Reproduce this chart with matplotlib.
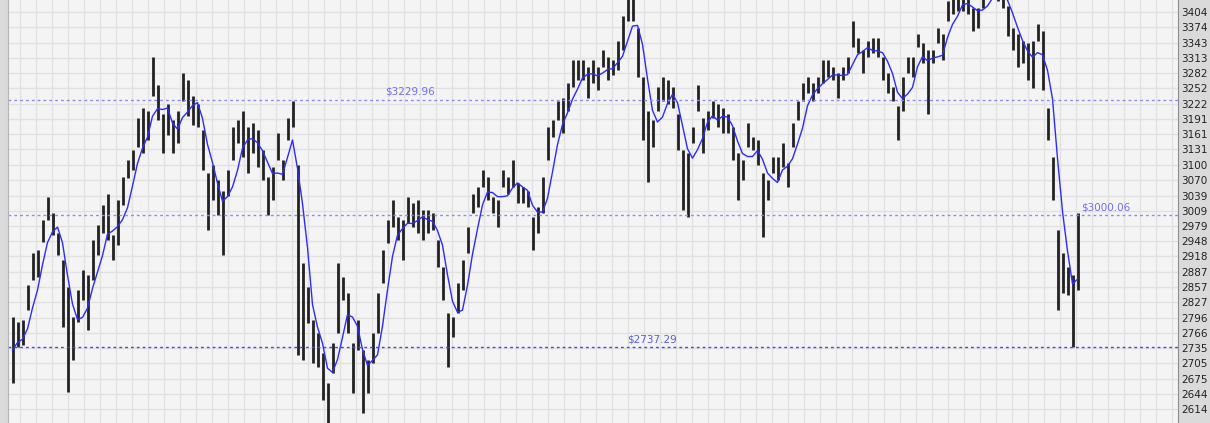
import numpy as np
import pandas as pd
import matplotlib
matplotlib.use("Agg")
import matplotlib.pyplot as plt
from matplotlib.ticker import MultipleLocator, FixedLocator, NullFormatter

# bar highs / lows, one bar every ~5 px
highs = [2797, 2787, 2791, 2861, 2924, 2930, 2990, 3036, 3004, 2964,
         2910, 2857, 2797, 2851, 2890, 2881, 2950, 2980, 3020, 3043,
         2960, 3030, 3075, 3109, 3129, 3194, 3214, 3208, 3314, 3258,
         3202, 3222, 3189, 3208,
         3282, 3268, 3238, 3222, 3169, 3083, 3099, 3069, 3049, 3089,
         3175, 3189, 3208, 3175, 3183, 3169, 3129, 3075, 3095, 3163,
         3109, 3194, 3228, 3099, 2904, 2857, 2791, 2765, 2726, 2666,
         2745, 2904, 2877, 2845, 2745, 2791,
         2731, 2712, 2765, 2845, 2930, 2990, 3030, 2996, 2990, 3036,
         3024, 3030, 3010, 3010, 3004, 2950, 2896, 2805, 2797, 2865,
         2910, 2976, 3043, 3055, 3089, 3075, 3036, 3030, 3089, 3075,
         3109, 3063, 3055, 3049, 2996, 3016,
         3075, 3175, 3189, 3228, 3234, 3262, 3308, 3308, 3308, 3294,
         3308, 3294, 3328, 3314, 3308, 3347, 3397, 3437, 3437, 3373,
         3274, 3208, 3189, 3254, 3274, 3268, 3254, 3202, 3129, 3123,
         3175, 3258, 3194, 3208, 3228, 3222,
         3214, 3202, 3175, 3123, 3109, 3183, 3155, 3149, 3083, 3069,
         3115, 3115, 3143, 3103, 3183, 3228, 3262, 3274, 3262, 3274,
         3308, 3308, 3294, 3282, 3294, 3314, 3387, 3353, 3328, 3347,
         3353, 3353, 3314, 3282, 3254, 3218,
         3274, 3314, 3314, 3361, 3342, 3328, 3328, 3373, 3361, 3427,
         3437, 3437, 3443, 3437, 3413, 3413, 3447, 3467, 3467, 3457,
         3447, 3417, 3373, 3361, 3347, 3342, 3347, 3381, 3367, 3214,
         3115, 2970, 2924, 2896, 2881, 3005]
lows = [2666, 2737, 2741, 2811, 2871, 2877, 2946, 2990, 2960, 2920,
        2777, 2648, 2712, 2787, 2831, 2771, 2871, 2920, 2964, 2950,
        2910, 2940, 3020, 3073, 3089, 3135, 3123, 3149, 3238, 3189,
        3123, 3159, 3123, 3143,
        3228, 3198, 3179, 3175, 3089, 2970, 3030, 3000, 2920, 3039,
        3109, 3143, 3115, 3083, 3123, 3095, 3069, 3000, 3030, 3109,
        3069, 3149, 3175, 2722, 2712, 2785, 2706, 2698, 2632, 2580,
        2686, 2765, 2831, 2765, 2646, 2731,
        2606, 2646, 2706, 2765, 2865, 2944, 2976, 2950, 2910, 2984,
        2976, 2964, 2950, 2964, 2970, 2896, 2831, 2698, 2757, 2805,
        2851, 2924, 3004, 3016, 3055, 3030, 3004, 2976, 3055, 3043,
        3055, 3024, 3024, 3016, 2930, 2964,
        3004, 3109, 3155, 3189, 3163, 3208, 3254, 3268, 3268, 3234,
        3262, 3248, 3294, 3268, 3278, 3288, 3328, 3387, 3387, 3274,
        3149, 3065, 3135, 3208, 3228, 3222, 3214, 3129, 3010, 2996,
        3143, 3208, 3123, 3169, 3194, 3175,
        3163, 3163, 3109, 3030, 3069, 3135, 3129, 3099, 2956, 3030,
        3083, 3069, 3095, 3055, 3135, 3189, 3228, 3242, 3228, 3242,
        3262, 3274, 3268, 3234, 3268, 3282, 3334, 3322, 3282, 3314,
        3322, 3314, 3268, 3242, 3228, 3149,
        3208, 3282, 3274, 3334, 3302, 3202, 3302, 3342, 3308, 3387,
        3401, 3407, 3407, 3401, 3367, 3373, 3413, 3437, 3437, 3427,
        3413, 3357, 3328, 3294, 3302, 3268, 3252, 3347, 3248, 3149,
        3030, 2811, 2845, 2841, 2737, 2851]

ytick_labels = ["3404", "3374", "3343", "3313", "3282", "3252", "3222",
                "3191", "3161", "3131", "3100", "3070", "3039", "3009",
                "2979", "2948", "2918", "2887", "2857", "2827", "2796",
                "2766", "2735", "2705", "2675", "2644", "2614", "2583"]

levels = [3229.96, 3000.06, 2737.29]
level_colors = ["#8a8aff", "#8a8aff", "#4646e6"]
label_colors = ["#6e6ef5", "#6e6ef5", "#5a5aea"]
label_x = [74.5, 213.7, 122.9]

W, H = 1210, 423
fig = plt.figure(figsize=(W / 100, H / 100), dpi=100, facecolor="#dadada")
ax = fig.add_axes([8 / W, 0, 1170 / W, 1])
ax.set_facecolor("#f4f4f4")

x = np.arange(len(highs))
hi = np.array(highs, dtype=float)
lo = np.array(lows, dtype=float)
mid = (hi + lo) / 2
ma = pd.Series(mid).rolling(4, min_periods=1).mean()

# grid
ax.xaxis.set_major_locator(MultipleLocator(3.2, offset=1.44))
ax.xaxis.set_major_formatter(NullFormatter())
ax.yaxis.set_major_locator(FixedLocator([int(t) for t in ytick_labels]))
ax.set_yticklabels(ytick_labels)
ax.grid(True, color="#e1e1e1", lw=1.0)
ax.set_axisbelow(True)

ax.vlines(x, lo, hi, color="#222222", lw=2.0)
ax.plot(x, ma, color="#2b2bff", lw=1.0)

for lev, c, lc, lx in zip(levels, level_colors, label_colors, label_x):
    ax.axhline(lev, color=c, lw=1.0, dashes=(2.0, 2.2))
    ax.annotate("$%.2f" % lev, (lx, lev), xytext=(0, 2), textcoords="offset points",
                ha="left", va="bottom", fontsize=7.5, color=lc)

ax.set_xlim(-0.9, 233.1)
ax.set_ylim(2586.5, 3428)

ax.yaxis.tick_right()
ax.tick_params(axis="y", length=0, pad=2.5, labelsize=7.5, labelcolor="#222222")
ax.tick_params(axis="x", length=0)
for side in ["top", "bottom"]:
    ax.spines[side].set_visible(False)
ax.spines["left"].set_color("#b4b4b4")
ax.spines["right"].set_color("#8c8c8c")

fig.savefig("out.png", dpi=100, facecolor=fig.get_facecolor())
